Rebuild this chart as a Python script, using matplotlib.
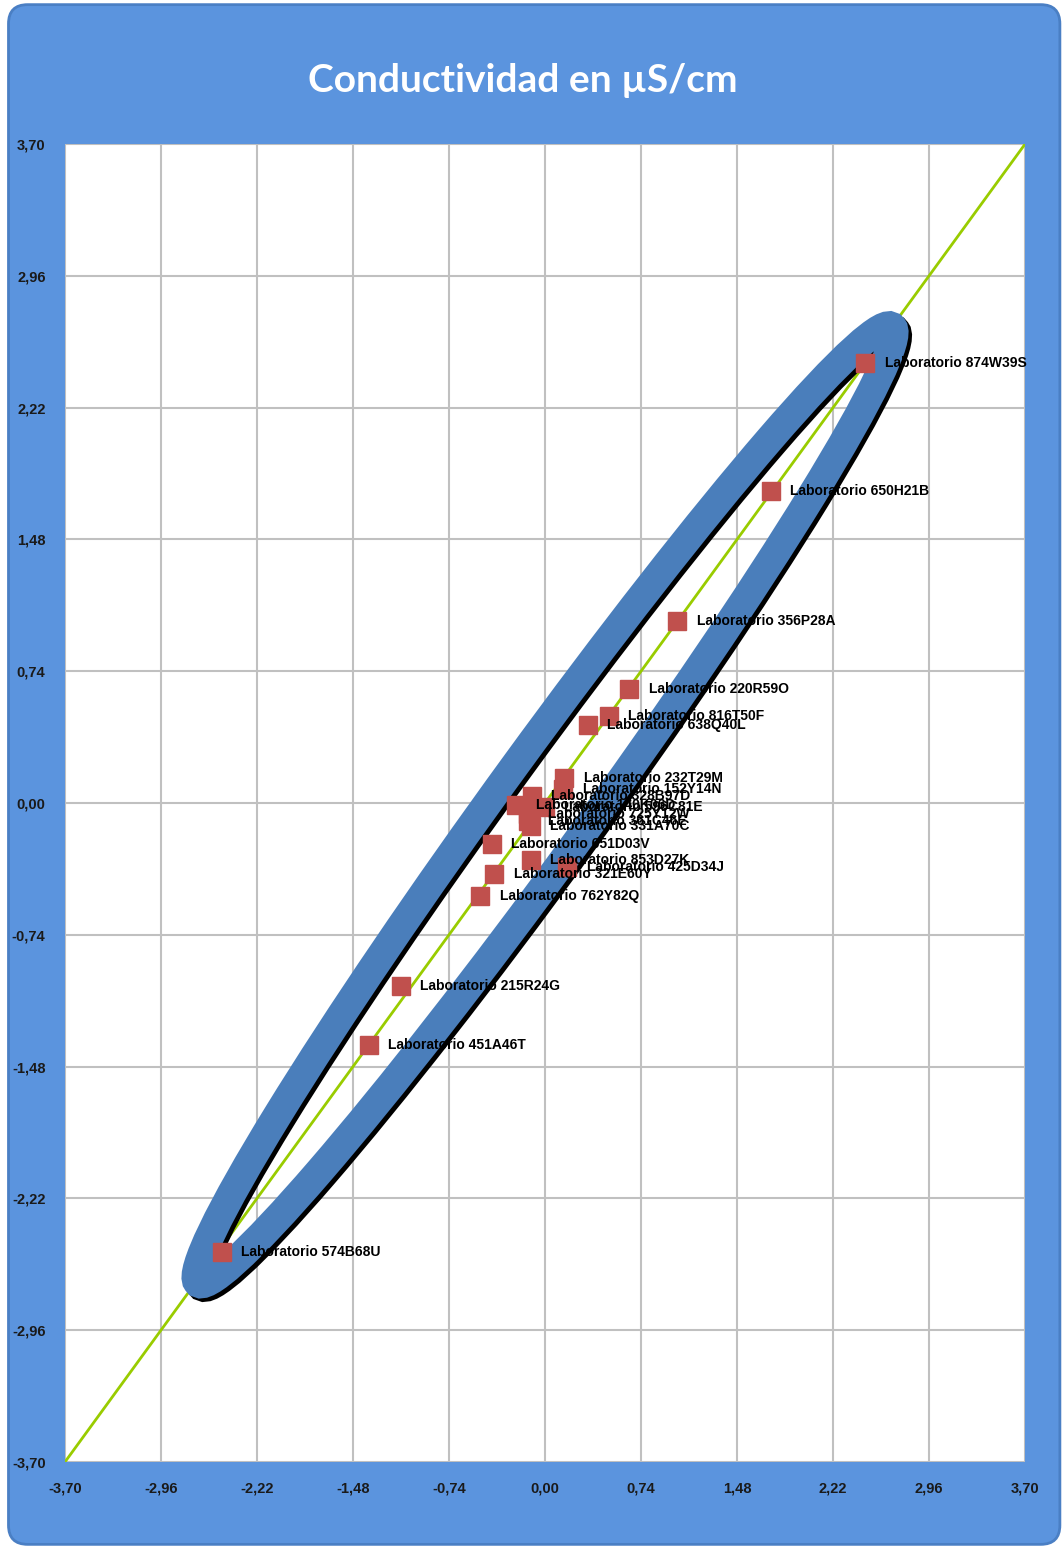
import numpy as np
import matplotlib.pyplot as plt
from matplotlib.patches import Ellipse, FancyBboxPatch
from matplotlib import transforms

labs = ["Laboratorio 874W39S", "Laboratorio 650H21B", "Laboratorio 356P28A",
        "Laboratorio 220R59O", "Laboratorio 816T50F", "Laboratorio 638Q40L",
        "Laboratorio 232T29M", "Laboratorio 152Y14N", "Laboratorio 328B97D",
        "Laboratorio 140K06D", "Laboratorio 596C81E", "Laboratorio 725Y12W",
        "Laboratorio 361C46E", "Laboratorio 331A70C", "Laboratorio 651D03V",
        "Laboratorio 853D27K", "Laboratorio 425D34J", "Laboratorio 321E60Y",
        "Laboratorio 762Y82Q", "Laboratorio 215R24G", "Laboratorio 451A46T",
        "Laboratorio 574B68U"]
x_vals = [2.47, 1.74, 1.02, 0.65, 0.49, 0.33,
          0.15, 0.14, -0.10, -0.22, 0.00, -0.13,
          -0.13, -0.11, -0.41, -0.11, 0.17, -0.39,
          -0.50, -1.11, -1.36, -2.49]
y_vals = [2.47, 1.75, 1.02, 0.64, 0.49, 0.44,
          0.14, 0.08, 0.04, -0.01, -0.02, -0.06,
          -0.10, -0.13, -0.23, -0.32, -0.36, -0.40,
          -0.52, -1.03, -1.36, -2.52]

ticks = np.arange(-3.70, 3.71, 0.74)
tick_labels = ["%.2f" % t for t in ticks]
tick_labels = [s.replace(".", ",").replace("-0,00", "0,00") for s in tick_labels]

# ellipse of confidence (centre, semi-axes in data units)
ell_center = (0.0, -0.01)
ell_a = 3.79
ell_b = 0.32

fig = plt.figure(figsize=(10.62, 15.49), dpi=100)
bg = FancyBboxPatch((0.008, 0.003), 0.99, 0.994,
                    boxstyle="round,pad=0,rounding_size=0.018",
                    mutation_aspect=1062 / 1549,
                    transform=fig.transFigure, facecolor="#5B94DE",
                    edgecolor="#4A7FC4", linewidth=2, zorder=-5)
fig.patches.append(bg)

ax = fig.add_axes([0.0612, 0.0562, 0.904, 0.8508])
ax.set_zorder(1)
ax.set_facecolor("white")
ax.set_xlim(-3.70, 3.70)
ax.set_ylim(-3.70, 3.70)
ax.set_xticks(ticks)
ax.set_yticks(ticks)
ax.set_xticklabels(tick_labels)
ax.set_yticklabels(tick_labels)
ax.tick_params(length=0, pad=14, labelsize=10.5, labelcolor="#1a1a1a")
for lab in ax.get_xticklabels() + ax.get_yticklabels():
    lab.set_fontweight("bold")
    lab.set_family("Liberation Sans")
ax.grid(True, color="#C0C0C0", linewidth=1.5)
ax.set_axisbelow(True)
for s in ax.spines.values():
    s.set_visible(False)

# diagonal reference line
ax.plot([-3.70, 3.70], [-3.70, 3.70], color="#99CC00", linewidth=2, zorder=2)

# ellipse with shadow
shadow_tr = transforms.offset_copy(ax.transData, fig=fig, x=2.5, y=-2.5, units="points")
shadow = Ellipse(ell_center, 2 * ell_a, 2 * ell_b, angle=45, fill=False,
                 edgecolor="black", linewidth=21, transform=shadow_tr, zorder=3)
ax.add_patch(shadow)
ell = Ellipse(ell_center, 2 * ell_a, 2 * ell_b, angle=45, fill=False,
              edgecolor="#4A7EBB", linewidth=21, zorder=4)
ax.add_patch(ell)

ax.plot(x_vals, y_vals, linestyle="none", marker="s", markersize=13,
        color="#C0504D", zorder=5)
for name, x, y in zip(labs, x_vals, y_vals):
    ax.annotate(name, (x, y), xytext=(14, 0), textcoords="offset points",
                ha="left", va="center", fontsize=10, fontweight="bold",
                family="Liberation Sans", color="black", zorder=6)

fig.text(0.492, 0.948, "Conductividad en µS/cm", ha="center", va="center",
         fontsize=28, fontweight="bold", family="Lato", color="white")

fig.savefig("out.png", dpi=100)
